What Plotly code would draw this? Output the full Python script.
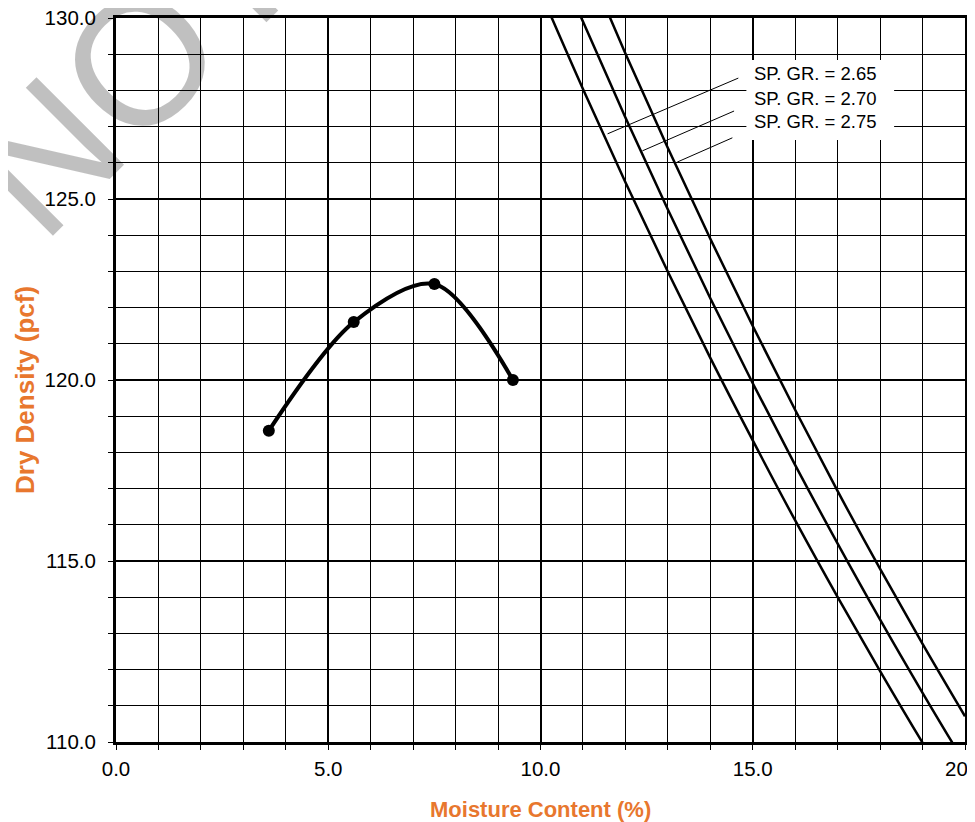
import plotly.graph_objects as go

# Compaction test points
moisture = [3.6, 5.6, 7.5, 9.35]
dry_density = [118.6, 121.6, 122.65, 120.0]

# Zero-air-voids curves
zav_w = [10, 11, 12, 13, 14, 15, 16, 17, 18, 19, 20]
zav_265 = [130.72, 128.04, 125.46, 122.99, 120.61, 118.33, 116.12, 114.00, 111.96, 109.98, 108.08]
zav_270 = [132.66, 129.90, 127.25, 124.71, 122.26, 119.91, 117.65, 115.48, 113.38, 111.36, 109.40]
zav_275 = [134.59, 131.75, 129.02, 126.41, 123.90, 121.49, 119.17, 116.93, 114.78, 112.71, 110.71]
zav_labels = ["SP. GR. = 2.65", "SP. GR. = 2.70", "SP. GR. = 2.75"]

x_ticks = [0, 5, 10, 15, 20]
y_ticks = [110, 115, 120, 125, 130]

FONT = "Liberation Sans, Arial, sans-serif"
ORANGE = "#E8772E"

# page body has an 8px default margin; plot area spans page px 116..965 x 18..742
L, T, W, H = 116, 18, 849, 724


def px(xp):
    return (xp - L) / W


def py(yp):
    return 1 - (yp - T) / H


fig = go.Figure()
for ys in (zav_265, zav_270, zav_275):
    fig.add_trace(go.Scatter(x=zav_w, y=ys, mode="lines", line=dict(color="black", width=2.5, shape="spline"),
                             showlegend=False, hoverinfo="skip"))
fig.add_trace(go.Scatter(x=moisture, y=dry_density, mode="lines+markers",
                         line=dict(color="black", width=4, shape="spline", smoothing=0.9),
                         marker=dict(color="black", size=12), showlegend=False))

# label box
fig.add_shape(type="rect", xref="x", yref="y", x0=14.85, x1=18.33, y0=126.63, y1=128.84,
              fillcolor="white", line=dict(width=0), layer="above")
leaders = [((11.58, 126.80), (14.66, 128.34)), ((12.40, 126.33), (14.56, 127.43)), ((13.22, 126.02), (14.52, 126.69))]
for (a, b) in leaders:
    fig.add_shape(type="line", xref="x", yref="y", x0=a[0], y0=a[1], x1=b[0], y1=b[1],
                  line=dict(color="black", width=1), layer="above")
for lbl, yy in zip(zav_labels, [128.48, 127.79, 127.13]):
    fig.add_annotation(x=14.99, y=yy, xref="x", yref="y", text=lbl, showarrow=False,
                       xanchor="left", yanchor="middle", font=dict(family=FONT, size=18.5, color="black"))

# watermark (translucent so the grid shows through, as if drawn beneath)
fig.add_annotation(xref="paper", yref="paper", x=px(133), y=py(68), text="NOT",
                   showarrow=False, textangle=-45,
                   font=dict(family=FONT, size=180, color="rgba(0,0,0,0.247)"), xanchor="center", yanchor="middle")

# axis titles
fig.add_annotation(xref="paper", yref="paper", x=px(540), y=py(809), text="<b>Moisture Content (%)</b>",
                   showarrow=False, xanchor="center", yanchor="middle", font=dict(family=FONT, size=22, color=ORANGE))
fig.add_annotation(xref="paper", yref="paper", x=px(25), y=py(390), text="<b>Dry Density (pcf)</b>",
                   showarrow=False, textangle=-90, xanchor="center", yanchor="middle", font=dict(family=FONT, size=26, color=ORANGE))

axis_common = dict(showgrid=True, gridcolor="black", gridwidth=2, showline=True, linecolor="black", linewidth=3,
                   mirror=True, ticks="outside", ticklen=5, tickcolor="black", tickwidth=1,
                   tickfont=dict(family=FONT, size=20.5, color="black"),
                   tickformat=".1f", zeroline=False, ticklabeloverflow="allow")
minor = dict(dtick=1, showgrid=True, gridcolor="black", gridwidth=1, ticks="outside", ticklen=5, tickcolor="black")
fig.update_xaxes(range=[0, 20], tickvals=x_ticks, minor=minor, ticklabelstandoff=1, **axis_common)
fig.update_yaxes(range=[110, 130], tickvals=y_ticks, minor=minor, ticklabelstandoff=8, **axis_common)
fig.update_layout(width=975, height=822,
                  margin=dict(l=L - 8, r=975 - (L + W - 8), t=T - 8, b=822 - (T + H - 8), autoexpand=False),
                  plot_bgcolor="white", paper_bgcolor="white", showlegend=False)
fig.write_html("out.html")
